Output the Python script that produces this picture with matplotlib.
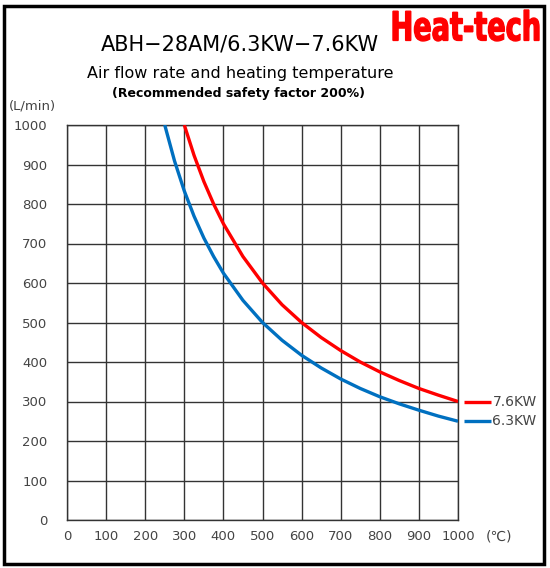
import matplotlib.pyplot as plt
from matplotlib.patches import Rectangle, PathPatch
from matplotlib.textpath import TextPath
from matplotlib.font_manager import FontProperties
from matplotlib.transforms import Affine2D, IdentityTransform

temp_76 = [300, 325, 350, 375, 400, 450, 500, 550, 600, 650, 700, 750, 800, 850, 900, 950, 1000]
flow_76 = [1000, 923, 857, 800, 750, 667, 600, 545, 500, 462, 429, 400, 375, 353, 333, 316, 300]
temp_63 = [250, 275, 300, 325, 350, 375, 400, 450, 500, 550, 600, 650, 700, 750, 800, 850, 900, 950, 1000]
flow_63 = [1000, 909, 833, 769, 714, 667, 625, 556, 500, 455, 417, 385, 357, 333, 312, 294, 278, 263, 250]
x_ticks = list(range(0, 1001, 100))
y_ticks = list(range(0, 1001, 100))
series = [("7.6KW", temp_76, flow_76, "#ff0000"),
          ("6.3KW", temp_63, flow_63, "#0070c0")]

W, H = 550, 568
fig = plt.figure(figsize=(W / 100, H / 100), dpi=100)
ax = fig.add_axes([67 / W, 1 - 520 / H, 391 / W, 395 / H])

# outer frame
fig.patches.append(Rectangle((4 / W, 1 - 564 / H), 540 / W, 558 / H,
                             transform=fig.transFigure, fill=False,
                             edgecolor="black", linewidth=2.5))

for name, xs, ys, col in series:
    ax.plot(xs, ys, color=col, linewidth=2.4, solid_capstyle="butt", zorder=3)
    # label line + text beside the end of each curve
    ax.plot([xs[-1] + 15, xs[-1] + 85], [ys[-1], ys[-1]], color=col,
            linewidth=2.4, clip_on=False, solid_capstyle="butt")
    ax.annotate(name, xy=(xs[-1] + 88, ys[-1]), xycoords="data",
                va="center", ha="left", fontsize=10, color="#444444",
                annotation_clip=False)

ax.set_xlim(0, 1000)
ax.set_ylim(0, 1000)
ax.set_xticks(x_ticks)
ax.set_yticks(y_ticks)
ax.grid(True, color="#333333", linewidth=1.0)
ax.set_axisbelow(True)
for s in ax.spines.values():
    s.set_color("#333333")
    s.set_linewidth(1.0)
ax.tick_params(length=0, labelsize=9.5, labelcolor="#444444", pad=7)
ax.tick_params(axis="y", pad=14)

fig.text(240 / W, 1 - 45 / H, "ABH\u221228AM/6.3KW\u22127.6KW", ha="center",
         va="center", fontsize=15)
fig.text(240 / W, 1 - 74 / H, "Air flow rate and heating temperature",
         ha="center", va="center", fontsize=11.5)
fig.text(239 / W, 1 - 93 / H, "(Recommended safety factor 200%)",
         ha="center", va="center", fontsize=9, fontweight="bold")
fig.text(32 / W, 1 - 106 / H, "(L/min)", ha="center", va="center",
         fontsize=9.5, color="#444444")
fig.text(486 / W, 1 - 537 / H, "(\u2103)", ha="left", va="center",
         fontsize=10, color="#444444")

# condensed heavy logo text, squeezed to fit its box (pixels)
logo = TextPath((0, 0), "Heat-tech", size=40,
                prop=FontProperties(family="DejaVu Sans", weight="bold"))
ext = logo.get_extents()
x0, x1, top, bot = 393, 539, 10, 41
sx = (x1 - x0) / ext.width
sy = (bot - top) / ext.height
tr = Affine2D().translate(-ext.x0, -ext.y0).scale(sx, sy).translate(x0, H - bot)
fig.patches.append(PathPatch(logo, transform=tr + IdentityTransform(),
                             facecolor="#ff0000", edgecolor="#ff0000",
                             linewidth=1.0, zorder=6))

fig.savefig("out.png", dpi=100)
